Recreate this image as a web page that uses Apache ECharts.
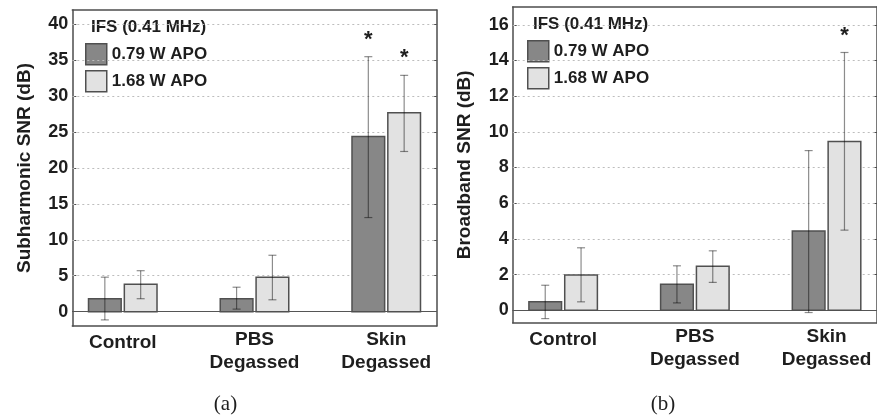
<!DOCTYPE html>
<html>
<head>
<meta charset="utf-8">
<script src="https://cdn.jsdelivr.net/npm/echarts@6/dist/echarts.min.js"></script>
<style>html,body{margin:0;padding:0;background:#fff}#c{width:877px;height:418px}</style>
</head>
<body>
<div id="c"></div>
<script>
// ---------- data ----------
const categories = ['Control', 'PBS\nDegassed', 'Skin\nDegassed'];
const seriesNames = ['0.79 W APO', '1.68 W APO'];
const legendTitle = 'IFS (0.41 MHz)';

// (a) Subharmonic SNR (dB)
const subLowMean  = [1.8, 1.8, 24.4];
const subLowLower = [-1.15, 0.35, 13.1];
const subLowUpper = [4.8, 3.4, 35.5];
const subHighMean  = [3.8, 4.8, 27.7];
const subHighLower = [1.8, 1.65, 22.3];
const subHighUpper = [5.7, 7.85, 32.9];
const subLowSig  = [false, false, true];
const subHighSig = [false, false, true];
const subTicks = [0, 5, 10, 15, 20, 25, 30, 35, 40];

// (b) Broadband SNR (dB)
const bbLowMean  = [0.47, 1.46, 4.44];
const bbLowLower = [-0.47, 0.41, -0.13];
const bbLowUpper = [1.40, 2.49, 8.95];
const bbHighMean  = [1.97, 2.47, 9.46];
const bbHighLower = [0.47, 1.56, 4.49];
const bbHighUpper = [3.5, 3.33, 14.45];
const bbLowSig  = [false, false, false];
const bbHighSig = [false, false, true];
const bbTicks = [0, 2, 4, 6, 8, 10, 12, 14, 16];

// ---------- styling ----------
const FONT = "'Liberation Sans', Arial, Helvetica, sans-serif";
const TXT = '#1e1e1e';
const BORDER = '#4d4d4d';
const DARK = '#878787', LIGHT = '#e2e2e2', EDGE = '#505050';
const OFF = 0.136, HW = 0.124, CAP = 4;

const chart = echarts.init(document.getElementById('c'), null, {renderer: 'canvas'});

function barSeries(name, mean, offset, color, xi, yi) {
  return {
    type: 'custom', name: name, xAxisIndex: xi, yAxisIndex: yi, z: 10,
    itemStyle: {color: color, borderColor: EDGE},
    data: mean.map((v, i) => [i + 1, v]),
    renderItem: function (params, api) {
      const x = api.value(0) + offset, y = api.value(1);
      const p1 = api.coord([x - HW, y]);
      const p2 = api.coord([x + HW, 0]);
      return {type: 'rect',
        shape: {x: p1[0], y: Math.min(p1[1], p2[1]), width: p2[0] - p1[0], height: Math.abs(p2[1] - p1[1])},
        style: {fill: color, stroke: EDGE, lineWidth: 1.5}};
    }
  };
}
function errSeries(lower, upper, offset, xi, yi) {
  return {
    type: 'custom', xAxisIndex: xi, yAxisIndex: yi, z: 11, silent: true,
    data: lower.map((v, i) => [i + 1, v, upper[i]]),
    renderItem: function (params, api) {
      const x = api.value(0) + offset;
      const lo = api.coord([x, api.value(1)]);
      const hi = api.coord([x, api.value(2)]);
      const st = {stroke: 'rgba(0,0,0,0.45)', lineWidth: 1.2};
      return {type: 'group', children: [
        {type: 'line', shape: {x1: lo[0], y1: lo[1], x2: hi[0], y2: hi[1]}, style: st},
        {type: 'line', shape: {x1: lo[0] - CAP, y1: lo[1], x2: lo[0] + CAP, y2: lo[1]}, style: st},
        {type: 'line', shape: {x1: hi[0] - CAP, y1: hi[1], x2: hi[0] + CAP, y2: hi[1]}, style: st}
      ]};
    }
  };
}
function starSeries(sig, upper, offset, xi, yi) {
  const d = [];
  sig.forEach((s, i) => { if (s) d.push([i + 1, upper[i]]); });
  return {
    type: 'custom', xAxisIndex: xi, yAxisIndex: yi, z: 12, silent: true,
    data: d,
    renderItem: function (params, api) {
      const p = api.coord([api.value(0) + offset, api.value(1)]);
      return {type: 'text', x: p[0], y: p[1] - 17,
        style: {text: '*', font: 'bold 22px ' + FONT, fill: TXT, textAlign: 'center', textVerticalAlign: 'middle'}};
    }
  };
}
function gridSeries(ticks, xi, yi) {
  const lines = ticks.filter(v => v !== 0).map(v => ({yAxis: v}));
  lines.push({yAxis: 0, lineStyle: {type: 'solid', color: '#555', width: 1.2}});
  return {
    type: 'line', xAxisIndex: xi, yAxisIndex: yi, z: 1, data: [], silent: true,
    markLine: {silent: true, symbol: ['none', 'none'], label: {show: false}, animation: false,
      lineStyle: {type: [2, 3], color: '#bdbdbd', width: 1}, data: lines}
  };
}
function xAxes(gi) {
  return [
    {type: 'value', gridIndex: gi, position: 'bottom', min: 0.617, max: 3.383,
      axisLine: {show: true, onZero: false, lineStyle: {color: BORDER, width: 1.5}},
      axisTick: {show: false}, splitLine: {show: false},
      axisLabel: {customValues: [1, 2, 3], margin: 2, fontFamily: FONT, fontWeight: 'bold', fontSize: 19, color: TXT, lineHeight: 23.5,
        formatter: v => { const c = categories[Math.round(v) - 1] || ''; return c.indexOf('\n') < 0 ? '{s|' + c + '}' : c; },
        rich: {s: {fontFamily: FONT, fontWeight: 'bold', fontSize: 19, color: TXT, padding: [6, 0, 0, 0]}}}},
    {type: 'value', gridIndex: gi, position: 'top', min: 0.617, max: 3.383,
      axisLine: {show: true, onZero: false, lineStyle: {color: BORDER, width: 1.5}},
      axisTick: {show: false}, axisLabel: {show: false}, splitLine: {show: false}}
  ];
}
function yAxes(gi, min, max, ticks, name) {
  return [
    {type: 'value', gridIndex: gi, position: 'left', min: min, max: max,
      name: name, nameLocation: 'middle', nameGap: 38, nameRotate: 90,
      nameTextStyle: {fontFamily: FONT, fontWeight: 'bold', fontSize: 19, color: TXT},
      axisLine: {show: true, onZero: false, lineStyle: {color: BORDER, width: 1.5}},
      axisTick: {show: true, inside: true, length: 4, customValues: ticks, lineStyle: {color: BORDER}},
      axisLabel: {customValues: ticks, margin: 4, fontFamily: FONT, fontWeight: 'bold', fontSize: 18, color: TXT},
      splitLine: {show: false}},
    {type: 'value', gridIndex: gi, position: 'right', min: min, max: max,
      axisLine: {show: true, onZero: false, lineStyle: {color: BORDER, width: 1.5}},
      axisTick: {show: true, inside: true, length: 4, customValues: ticks, lineStyle: {color: BORDER}},
      axisLabel: {show: false}, splitLine: {show: false}}
  ];
}
function legend(left, top) {
  return {left: left, top: top, orient: 'vertical', padding: 0, itemWidth: 21, itemHeight: 21, itemGap: 4.5,
    selectedMode: false,
    textStyle: {fontFamily: FONT, fontWeight: 'bold', fontSize: 17, color: TXT},
    data: [
      {name: seriesNames[0], icon: 'rect', itemStyle: {color: DARK, borderColor: EDGE, borderWidth: 1.5}},
      {name: seriesNames[1], icon: 'rect', itemStyle: {color: LIGHT, borderColor: EDGE, borderWidth: 1.5}}
    ]};
}

const option = {
  animation: false,
  backgroundColor: '#fff',
  grid: [
    {left: 72.3, top: 10, width: 364.4, height: 316},
    {left: 512.7, top: 7, width: 364.8, height: 315.7}
  ],
  xAxis: xAxes(0).concat(xAxes(1)),
  yAxis: yAxes(0, -2, 42, subTicks, 'Subharmonic SNR (dB)').concat(yAxes(1, -0.7, 17, bbTicks, 'Broadband SNR (dB)')),
  legend: [legend(85, 43), legend(527, 40)],
  graphic: [
    {type: 'text', x: 91, y: 27, style: {text: legendTitle, font: 'bold 17px ' + FONT, fill: TXT, textVerticalAlign: 'middle'}},
    {type: 'text', x: 533, y: 24, style: {text: legendTitle, font: 'bold 17px ' + FONT, fill: TXT, textVerticalAlign: 'middle'}},
    {type: 'text', x: 225.5, y: 404, style: {text: '(a)', font: "21px 'Liberation Serif', 'Times New Roman', serif", fill: TXT, textAlign: 'center', textVerticalAlign: 'middle'}},
    {type: 'text', x: 663, y: 404, style: {text: '(b)', font: "21px 'Liberation Serif', 'Times New Roman', serif", fill: TXT, textAlign: 'center', textVerticalAlign: 'middle'}}
  ],
  series: [
    gridSeries(subTicks, 0, 0),
    barSeries(seriesNames[0], subLowMean, -OFF, DARK, 0, 0),
    barSeries(seriesNames[1], subHighMean, OFF, LIGHT, 0, 0),
    errSeries(subLowLower, subLowUpper, -OFF, 0, 0),
    errSeries(subHighLower, subHighUpper, OFF, 0, 0),
    starSeries(subLowSig, subLowUpper, -OFF, 0, 0),
    starSeries(subHighSig, subHighUpper, OFF, 0, 0),
    gridSeries(bbTicks, 2, 2),
    barSeries(seriesNames[0], bbLowMean, -OFF, DARK, 2, 2),
    barSeries(seriesNames[1], bbHighMean, OFF, LIGHT, 2, 2),
    errSeries(bbLowLower, bbLowUpper, -OFF, 2, 2),
    errSeries(bbHighLower, bbHighUpper, OFF, 2, 2),
    starSeries(bbLowSig, bbLowUpper, -OFF, 2, 2),
    starSeries(bbHighSig, bbHighUpper, OFF, 2, 2)
  ]
};
chart.setOption(option);
</script>
</body>
</html>
